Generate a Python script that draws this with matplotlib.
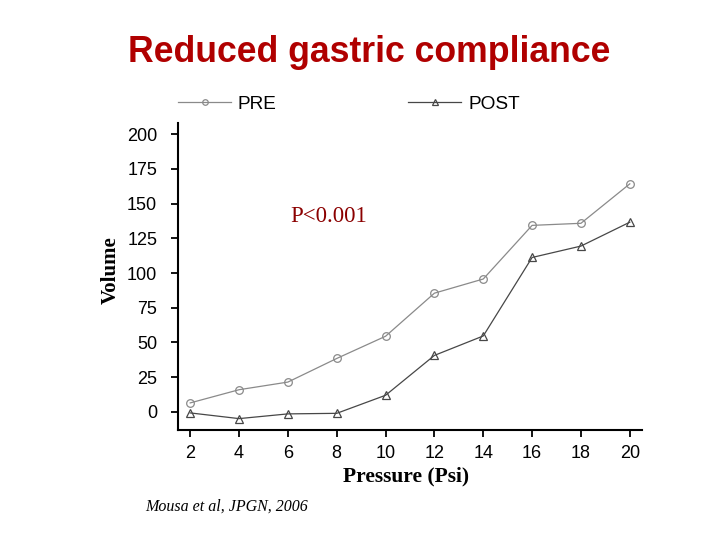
import matplotlib
matplotlib.use("Agg")
import matplotlib.pyplot as plt
from matplotlib.lines import Line2D

pressure = [2, 4, 6, 8, 10, 12, 14, 16, 18, 20]
pre = [6.5, 16, 21.5, 38.5, 54.5, 85.5, 95.7, 134.3, 135.8, 164.2]
post = [-0.7, -4.8, -1.4, -1.0, 12, 40.7, 54.7, 111.2, 119.4, 136.6]
yticks = [0, 25, 50, 75, 100, 125, 150, 175, 200]
xticks = [2, 4, 6, 8, 10, 12, 14, 16, 18, 20]

fig = plt.figure(figsize=(7.2, 5.4), dpi=100)
ax = fig.add_axes([178/720, 1-430/540, (642-178)/720, (430-123)/540])

pre_color = "#8a8a8a"
post_color = "#474747"
ax.plot(pressure, pre, color=pre_color, lw=0.9, marker="o", ms=5.5,
        mfc="none", mec=pre_color, mew=0.9)
ax.plot(pressure, post, color=post_color, lw=0.9, marker="^", ms=5.5,
        mfc="none", mec=post_color, mew=0.9)

ax.set_xlim(1.5, 20.5)
ax.set_ylim(-13, 208)
ax.set_xticks(xticks)
ax.set_yticks(yticks)
for s in ["top", "right"]:
    ax.spines[s].set_visible(False)
for s in ["left", "bottom"]:
    ax.spines[s].set_linewidth(1.5)
    ax.spines[s].set_color("black")
ax.tick_params(axis="both", direction="out", length=5, width=1.3,
               labelsize=13, colors="black")
ax.tick_params(axis="y", pad=10)
ax.tick_params(axis="x", pad=6)
for lab in ax.get_xticklabels() + ax.get_yticklabels():
    lab.set_fontfamily("Liberation Sans")

ax.set_xlabel("Pressure (Psi)", fontfamily="Liberation Serif",
              fontweight="bold", fontsize=15.5)
ax.set_ylabel("Volume", fontfamily="Liberation Serif",
              fontweight="bold", fontsize=15)
ax.xaxis.set_label_coords((406-178)/464, (430-466)/307)
ax.yaxis.set_label_coords((121-178)/464, (430-270)/307)

fig.text(369/720, 1-52/540, "Reduced gastric compliance",
         fontfamily="Liberation Sans", fontweight="bold", fontsize=25.7,
         color="#b00000", ha="center", va="center")
fig.text(329/720, 1-217/540, "P<0.001", fontfamily="Liberation Serif",
         fontsize=16.5, color="#8b0000", ha="center", va="center")
fig.text(145/720, 1-507/540, "Mousa et al, JPGN, 2006",
         fontfamily="Liberation Serif", fontstyle="italic", fontsize=11.5,
         color="black", ha="left", va="center")

h1 = Line2D([], [], color=pre_color, lw=0.9, marker="o", ms=4,
            mfc="none", mec=pre_color, mew=0.9)
h2 = Line2D([], [], color=post_color, lw=0.9, marker="^", ms=4,
            mfc="none", mec=post_color, mew=0.9)
leg = fig.legend([h1, h2], ["PRE", "POST"], ncol=2, frameon=False,
                 loc="center left", bbox_to_anchor=(178/720, 1-104/540),
                 prop={"family": "Liberation Sans", "size": 13.7},
                 handlelength=2.8, handletextpad=0.35, columnspacing=6.9,
                 borderpad=0, borderaxespad=0)

fig.savefig("out.png", dpi=100)
